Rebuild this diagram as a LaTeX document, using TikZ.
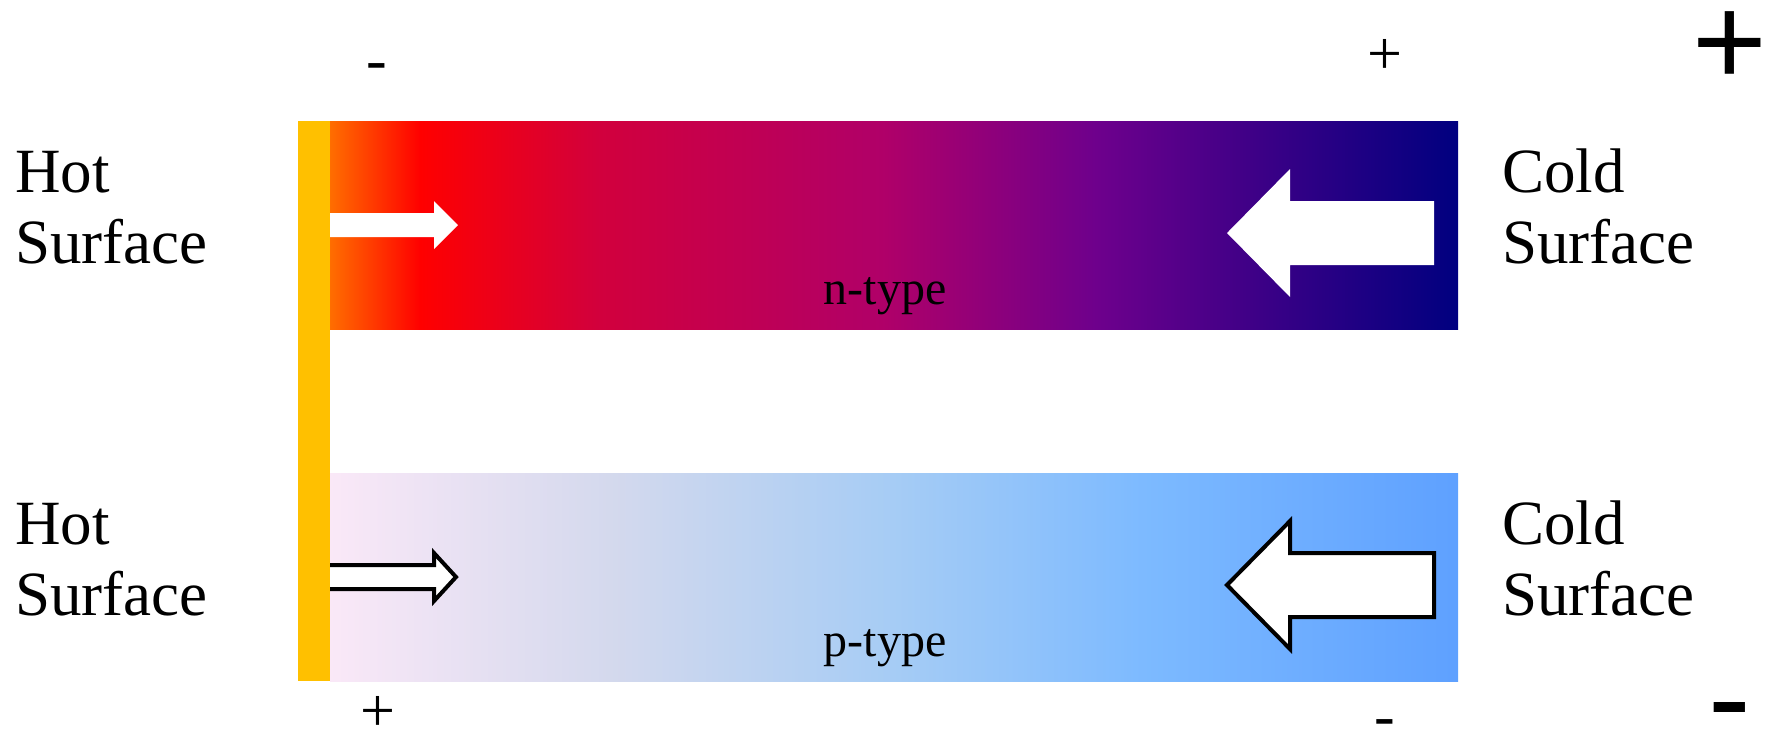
\documentclass[tikz,border=0pt]{standalone}
\usepackage{fontspec}
\setmainfont{Liberation Serif}
\newfontfamily\arialfont{Liberation Sans}
\usepackage{tikz}
\usetikzlibrary{calc}
\definecolor{ffcqqq}{RGB}{255,192,0}
\definecolor{qqqqqq}{RGB}{0,0,0}
\pgfdeclarehorizontalshading{ntype}{100bp}{rgb(0bp)=(1,0.43,0); rgb(25bp)=(1,0.43,0); rgb(29bp)=(1,0,0); rgb(37bp)=(0.82,0,0.24); rgb(49.5bp)=(0.69,0,0.41); rgb(59bp)=(0.43,0,0.55); rgb(75bp)=(0,0,0.5); rgb(100bp)=(0,0,0.5)}
\pgfdeclarehorizontalshading{ptype}{100bp}{rgb(0bp)=(0.98,0.91,0.97); rgb(25bp)=(0.98,0.91,0.97); rgb(37.5bp)=(0.83,0.85,0.93); rgb(50bp)=(0.65,0.8,0.96); rgb(61bp)=(0.49,0.73,1); rgb(75bp)=(0.37,0.63,1); rgb(100bp)=(0.37,0.63,1)}
\tikzset{
  side/.style={align=left, inner sep=0pt, font=\fontsize{31.5}{35.5}\selectfont},
  kind/.style={inner sep=0pt, font=\fontsize{24}{28}\selectfont},
  pole/.style={inner sep=0pt, font=\fontsize{31}{36}\selectfont},
  bigpole/.style={inner sep=0pt, font=\arialfont\fontsize{64}{70}\selectfont}
}

\begin{document}
\begin{tikzpicture}[line cap=round,line join=miter,x=0.5pt,y=-0.5pt]
\useasboundingbox (0,0) rectangle (1771,736);
% legs
\shade[shading=ntype] (330,121) rectangle (1458,329);
\shade[shading=ptype] (330,473) rectangle (1458,681);
% carriers, hot side
\fill[white] (326,213) -- (434,213) -- (434,201) -- (458,225) -- (434,249) -- (434,237) -- (326,237) -- cycle;
\draw[line width=2pt,color=qqqqqq,fill=white] (326,565) -- (434,565) -- (434,553) -- (456,577) -- (434,601) -- (434,589) -- (326,589) -- cycle;
% carriers, cold side
\fill[white] (1434,201) -- (1290,201) -- (1290,169) -- (1227,233) -- (1290,297) -- (1290,265) -- (1434,265) -- cycle;
\draw[line width=2pt,color=qqqqqq,fill=white] (1434,553) -- (1290,553) -- (1290,521) -- (1227,585) -- (1290,649) -- (1290,617) -- (1434,617) -- cycle;
% hot plate
\fill[ffcqqq] (298,121) rectangle (330,681);
% labels
\node[side,anchor=base west] (hotn) at (15,263) {Hot\\Surface};
\node[side,anchor=base west] (hotp) at (15,615) {Hot\\Surface};
\node[side,anchor=base west] (coldn) at (1502,263) {Cold\\Surface};
\node[side,anchor=base west] (coldp) at (1502,615) {Cold\\Surface};
\node[kind,anchor=base] (ntype) at (885,304) {n-type};
\node[kind,anchor=base] (ptype) at (885,656) {p-type};
\node[pole,anchor=base] (nminus) at (377,80) {-};
\node[pole,anchor=base] (nplus) at (1385,74) {+};
\node[pole,anchor=base] (pplus) at (378,731) {+};
\node[pole,anchor=base] (pminus) at (1385,736) {-};
\node[bigpole,anchor=base] (plus) at (1730,85) {+};
\node[bigpole,anchor=base] (minus) at (1730,741) {-};
\end{tikzpicture}
\end{document}
